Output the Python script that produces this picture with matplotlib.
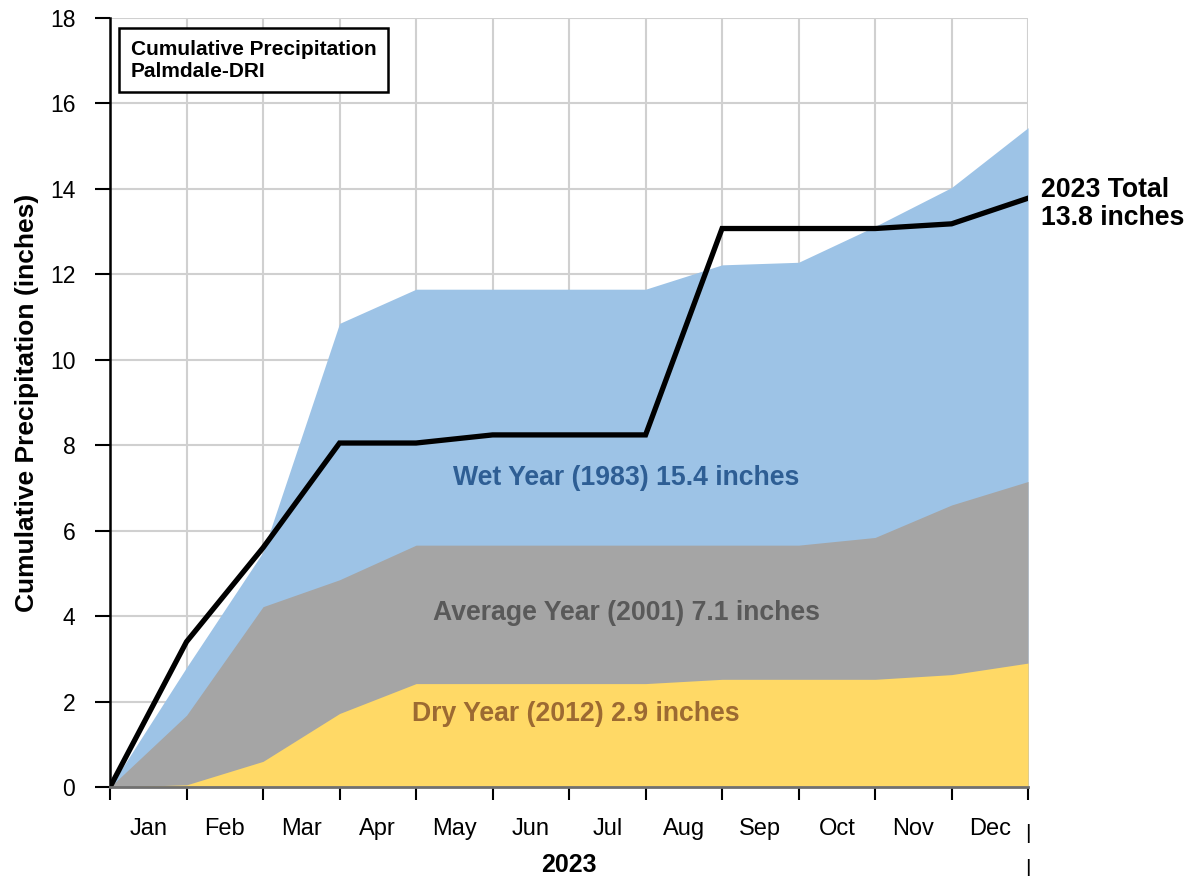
import numpy as np
import matplotlib.pyplot as plt
from matplotlib import transforms

plt.rcParams['font.family'] = ['Liberation Sans', 'DejaVu Sans']

months = ['Jan', 'Feb', 'Mar', 'Apr', 'May', 'Jun',
          'Jul', 'Aug', 'Sep', 'Oct', 'Nov', 'Dec']

# cumulative precip at end of each month (index 0 = Jan 1)
wet_1983 = [0, 2.8, 5.5, 10.85, 11.65, 11.65, 11.65, 11.65, 12.22, 12.28, 13.12, 14.03, 15.43]
avg_2001 = [0, 1.68, 4.22, 4.85, 5.66, 5.66, 5.66, 5.66, 5.66, 5.66, 5.84, 6.6, 7.15]
dry_2012 = [0, 0.05, 0.6, 1.72, 2.42, 2.42, 2.42, 2.42, 2.52, 2.52, 2.52, 2.63, 2.9]
y2023 = [0, 3.4, 5.6, 8.05, 8.05, 8.24, 8.24, 8.24, 13.07, 13.07, 13.07, 13.18, 13.78]

x = np.arange(len(y2023))

fig = plt.figure(figsize=(11.91, 8.76), dpi=100)
ax = fig.add_axes([0.0924, 0.1016, 0.7708, 0.878])

ax.fill_between(x, 0, wet_1983, color='#9DC3E6', lw=0, zorder=2)
ax.fill_between(x, 0, avg_2001, color='#A5A5A5', lw=0, zorder=3)
ax.fill_between(x, 0, dry_2012, color='#FFD966', lw=0, zorder=4)
ax.plot(x, y2023, color='black', lw=3.8, zorder=6, solid_joinstyle='miter')

ax.set_xlim(0, 12)
ax.set_ylim(0, 18)
ax.set_yticks(np.arange(0, 19, 2))
ax.set_xticks(x)
ax.set_xticklabels([])
ax.set_xticks(x[:-1] + 0.5, minor=True)
ax.set_xticklabels(months, minor=True)
ax.tick_params(axis='x', which='major', length=9, width=1.5, direction='out', color='black')
ax.tick_params(axis='x', which='minor', length=0, pad=22, labelsize=17)
ax.tick_params(axis='y', length=11, width=1.5, labelsize=16.5, pad=14)

ax.grid(True, color='#D0D0D0', lw=1.5, zorder=1)
ax.set_axisbelow(True)
for s in ['top', 'right']:
    ax.spines[s].set_visible(False)
ax.spines['left'].set_linewidth(1.8)
ax.spines['bottom'].set_color('#707070')
ax.spines['bottom'].set_linewidth(2)
ax.spines['bottom'].set_zorder(7)

ax.set_ylabel('Cumulative Precipitation (inches)', fontsize=19, fontweight='bold', labelpad=8)
ax.set_xlabel('2023', fontsize=18, fontweight='bold', labelpad=10)

ax.text(0.27, 17.49, 'Cumulative Precipitation\nPalmdale-DRI', fontsize=15, fontweight='bold',
        va='top', ha='left', linespacing=1.2, zorder=8,
        bbox=dict(boxstyle='square,pad=0.55', fc='white', ec='black', lw=1.8))

ax.text(6.745, 7.23, 'Wet Year (1983) 15.4 inches', color='#2E5E94', fontsize=19.2,
        fontweight='bold', ha='center', va='center', zorder=8)
ax.text(6.745, 4.07, 'Average Year (2001) 7.1 inches', color='#595959', fontsize=19.2,
        fontweight='bold', ha='center', va='center', zorder=8)
ax.text(6.09, 1.71, 'Dry Year (2012) 2.9 inches', color='#9C6A32', fontsize=19.2,
        fontweight='bold', ha='center', va='center', zorder=8)

ax.text(12.17, 13.65, '2023 Total\n13.8 inches', fontsize=19.2, fontweight='bold',
        ha='left', va='center', linespacing=1.1, clip_on=False)

trans = transforms.blended_transform_factory(ax.transData, ax.transAxes)
ax.text(12, -0.06, '|', transform=trans, ha='center', va='center', fontsize=15, clip_on=False)
ax.text(12, -0.106, '|', transform=trans, ha='center', va='center', fontsize=15, clip_on=False)

fig.savefig('out.png', dpi=100)
